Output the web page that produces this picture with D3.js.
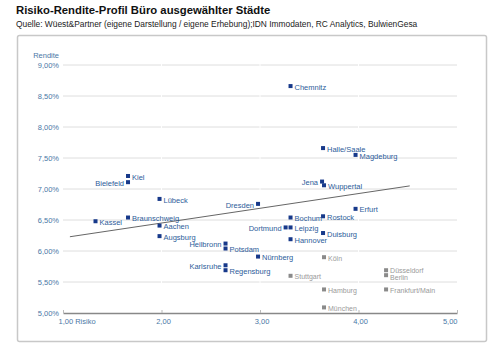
<!DOCTYPE html>
<html><head><meta charset="utf-8">
<script src="https://cdn.jsdelivr.net/npm/d3@7"></script>
<style>
body{margin:0;background:#fff;}
svg{display:block;font-family:"Liberation Sans",Arial,sans-serif;}
</style></head>
<body>
<svg id="chart" width="500" height="359"></svg>
<script>
const cities = ["Chemnitz","Halle/Saale","Magdeburg","Kiel","Bielefeld","Jena","Wuppertal","Lübeck","Dresden","Erfurt","Braunschweig","Bochum","Rostock","Kassel","Aachen","Dortmund","Leipzig","Augsburg","Duisburg","Hannover","Heilbronn","Potsdam","Nürnberg","Karlsruhe","Regensburg","Köln","Stuttgart","Düsseldorf","Berlin","Hamburg","Frankfurt/Main","München"];
const risk =    [3.31,3.64,3.97,1.66,1.66,3.63,3.65,1.98,2.98,3.97,1.66,3.31,3.64,1.33,1.98,3.26,3.31,1.98,3.64,3.31,2.65,2.65,2.98,2.65,2.65,3.65,3.31,4.28,4.28,3.65,4.28,3.65];
const yieldPct =[8.66,7.66,7.55,7.21,7.11,7.12,7.06,6.84,6.76,6.68,6.54,6.54,6.56,6.48,6.41,6.38,6.38,6.24,6.29,6.19,6.12,6.04,5.91,5.77,5.69,5.90,5.60,5.69,5.61,5.38,5.38,5.09];
const group =   ["b","b","b","b","b","b","b","b","b","b","b","b","b","b","b","b","b","b","b","b","b","b","b","b","b","g","g","g","g","g","g","g"];
const labelSide=["r","r","r","r","l","l","r","r","l","r","r","r","r","r","r","l","r","r","r","r","l","r","r","l","r","r","r","r","r","r","r","r"];
const xTicks = [1,2,3,4,5];
const xTickLabels = ["1,00 Risiko","2,00","3,00","4,00","5,00"];
const yTicks = [5,5.5,6,6.5,7,7.5,8,8.5,9];
const yTickLabels = ["5,00%","5,50%","6,00%","6,50%","7,00%","7,50%","8,00%","8,50%","9,00%"];
const trendX = [1.07,4.52];
const trendY = [6.23,7.05];

const svg = d3.select("#chart");
const x = d3.scaleLinear().domain([1,5]).range([63,457]);
const y = d3.scaleLinear().domain([5,9]).range([313,65]);

// frame
svg.append("rect").attr("x",17.5).attr("y",35.5).attr("width",469).attr("height",306).attr("rx",2)
  .attr("fill","#fff").attr("stroke","#c8c8c8").attr("stroke-width",1.5);

// title
svg.append("text").attr("x",16).attr("y",14).attr("font-weight","bold").attr("font-size",11.3).attr("fill","#111")
  .text("Risiko-Rendite-Profil Büro ausgewählter Städte");
svg.append("text").attr("x",16).attr("y",27).attr("font-size",8.4).attr("fill","#222")
  .text("Quelle: Wüest&Partner (eigene Darstellung / eigene Erhebung);IDN Immodaten, RC Analytics, BulwienGesa");

// gridlines
svg.append("g").selectAll("line").data(yTicks.filter(d=>d>5)).join("line")
  .attr("x1",x(1)).attr("x2",x(5)).attr("y1",d=>y(d)).attr("y2",d=>y(d))
  .attr("stroke","#dedede").attr("stroke-width",1);
svg.append("g").selectAll("line").data(xTicks.slice(1,4)).join("line")
  .attr("x1",d=>x(d)).attr("x2",d=>x(d)).attr("y1",y(9)-2).attr("y2",y(5)-2)
  .attr("stroke","#fff").attr("stroke-width",1);

// y axis labels
svg.append("g").selectAll("text").data(yTicks).join("text")
  .attr("x",59).attr("y",d=>y(d)).attr("dy","0.35em").attr("text-anchor","end")
  .attr("font-size",7.5).attr("fill","#4a78a6").text((d,i)=>yTickLabels[i]);
svg.append("text").attr("x",59).attr("y",y(9)-10).attr("dy","0.35em").attr("text-anchor","end")
  .attr("font-size",7.5).attr("fill","#4a78a6").text("Rendite");

// x axis
const xAxis = d3.axisBottom(x).tickValues(xTicks).tickSize(0).tickFormat((d,i)=>xTickLabels[i]);
const gx = svg.append("g").attr("transform",`translate(0,${y(5)})`).call(xAxis);
gx.select(".domain").attr("stroke","#888").attr("stroke-width",1.3);
gx.selectAll(".tick line").remove();
gx.selectAll(".tick").append("line").attr("y1",-3).attr("y2",0).attr("stroke","#bbb");
gx.selectAll(".tick text").attr("font-size",7.5).attr("fill","#4a78a6").attr("font-family","Liberation Sans, Arial, sans-serif")
  .attr("y",6)
  .attr("text-anchor",(d,i)=> i===0 ? "start" : (i===4 ? "end" : "middle"))
  .attr("dx",(d,i)=> i===0 ? -5 : (i===4 ? 0 : 1.5));

// trend line
svg.append("line").attr("x1",x(trendX[0])).attr("y1",y(trendY[0])).attr("x2",x(trendX[1])).attr("y2",y(trendY[1]))
  .attr("stroke","#666").attr("stroke-width",1);

// points
const data = cities.map((c,i)=>({c,x:risk[i],y:yieldPct[i],g:group[i],s:labelSide[i]}));
const sz = 4;
svg.append("g").selectAll("rect").data(data).join("rect")
  .attr("x",d=>x(d.x)-sz/2).attr("y",d=>y(d.y)-sz/2).attr("width",sz).attr("height",sz)
  .attr("fill",d=>d.g==="b"?"#17398a":"#8a8a8a");
const nudge = {"Düsseldorf":-0.8,"Berlin":1.2};
svg.append("g").selectAll("text").data(data).join("text")
  .attr("x",d=>d.s==="r" ? x(d.x)+4 : x(d.x)-4)
  .attr("y",d=>y(d.y)+1+(nudge[d.c]||0)).attr("dy","0.35em")
  .attr("text-anchor",d=>d.s==="r"?"start":"end")
  .attr("font-size",d=>d.g==="b"?7.5:7).attr("fill",d=>d.g==="b"?"#2d5c9a":"#9a9a9a").text(d=>d.c);
</script>
</body></html>
